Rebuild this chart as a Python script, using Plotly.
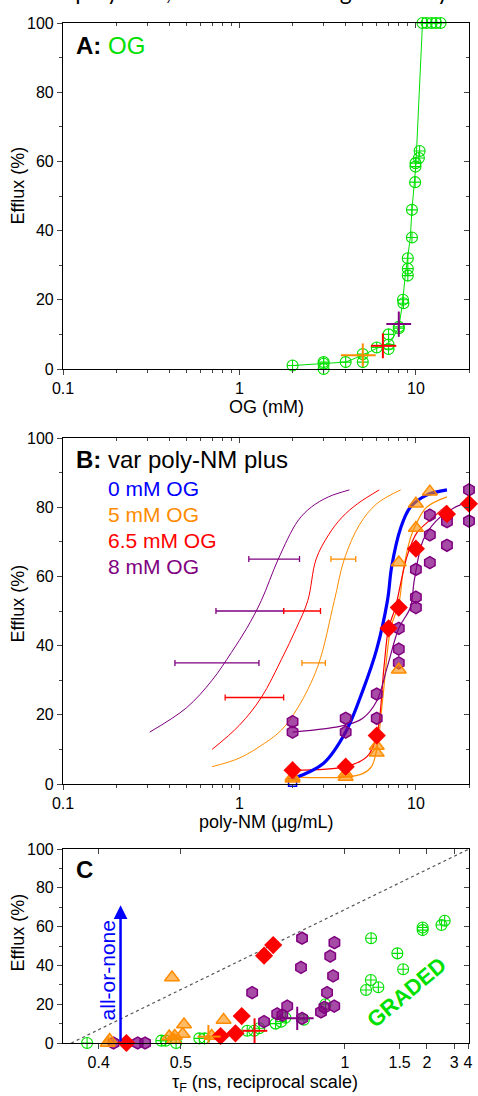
import numpy as np
import plotly.graph_objects as go

# ---------------- Panel A data (OG alone) ----------------
og_conc = [2, 3, 3, 3, 4, 5, 5, 6, 7, 7, 7, 8, 8, 8.45, 8.5, 9, 9, 9, 9.5, 9.5,
           9.9, 9.95, 9.95, 10.4, 10.5, 10.9, 11.5, 12.3, 13, 13.8]
og_efflux = [1, 2, 1.5, 0, 2, 4.3, 2, 6.2, 7.1, 5.8, 10, 12.2, 11.8, 20, 19, 29, 27, 32, 38, 46,
             54, 58.5, 59.5, 61, 63, 100, 100, 100, 100, 100]
og_line_x = [2, 3, 4, 5, 6, 6.6, 7.3, 8, 8.4, 8.7, 9.3, 9.5, 10.0, 10.9, 13.8]
og_line_y = [1, 1.6, 2, 4, 6, 6.7, 8.4, 12, 19, 27, 38, 46, 59, 100, 100]
crossA_x = [5, 6.5, 8]
crossA_y = [4, 6.7, 13]
crossA_xlo = [3.76, 5.56, 6.8]
crossA_xhi = [5.92, 7.74, 9.4]
crossA_ylo = [0.7, 3.1, 9.3]
crossA_yhi = [7.4, 10.3, 16.6]

# ---------------- Panel B data (poly-NM plus OG) ----------------
b0_x = [2]
b0_y = [0.5]
b0_fit_x = [2, 3, 4, 5, 6, 6.9, 7.3, 8.2, 9.3, 11.5, 15]
b0_fit_y = [1.5, 6, 15, 27, 39, 53, 63, 74, 80, 83.5, 85]

b5_x = [2, 2, 4, 4, 6, 6, 8, 8, 10, 10, 12]
b5_y = [2, 1.5, 3, 2, 11, 9, 33, 64, 81, 74, 84.5]
b5_fit_x = [2, 4, 5, 5.6, 6, 6.5, 7.2, 8, 8.5, 9.3, 10, 11.5, 15]
b5_fit_y = [2, 2, 3, 5, 10, 25, 45, 52, 62, 71, 75, 80, 83]

b65_x = [2, 4, 6, 7, 8, 10, 15, 20]
b65_y = [4, 5, 14, 45, 51, 68, 78, 81]
b65_fit_x = [2, 4, 5.3, 6, 6.6, 7, 7.65, 8.9, 10.1, 12.5, 15]
b65_fit_y = [4, 5, 8, 14, 34, 45, 51, 65.7, 72.5, 77, 80.6]

b8_x = [2, 2, 4, 4, 6, 6, 8, 8, 8, 10, 10, 10, 12, 12, 12, 15, 15, 15, 20, 20]
b8_y = [18, 15, 19, 15, 26, 19, 45, 39, 35, 51, 54, 62, 64, 72, 77.7, 77.7, 75.8, 69, 85, 76]
b8_fit_x = [2, 4, 5, 6, 6.9, 8, 9.3, 9.8, 11, 13, 16.3, 20]
b8_fit_y = [15, 17, 19, 24, 34, 45, 51, 59, 70.5, 76, 79.7, 81.6]

# shifted (thin) curves on the left
s8_x = [0.31, 0.5, 0.7, 0.9, 1.1, 1.33, 1.66, 2.14, 2.55, 3.2, 4.2]
s8_y = [15, 22, 30, 38, 45, 53, 65, 76, 80, 83, 85]
s65_x = [0.7, 1.0, 1.33, 1.73, 2.1, 2.44, 2.72, 3.2, 3.8, 4.67, 6.2]
s65_y = [10, 17, 25, 36, 45, 53, 65, 72, 77, 81, 85]
s5_x = [0.7, 1.0, 1.39, 1.73, 2.14, 2.78, 3.45, 3.93, 4.8, 6.0, 8.2]
s5_y = [5, 7.5, 11.8, 15.6, 22, 34, 53, 65, 75, 81, 85]

# horizontal error bars in panel B
ebB_series = ["8", "5", "8", "6.5", "8", "5", "6.5"]
ebB_y = [65, 65, 50, 50, 35, 35, 25]
ebB_lo = [1.13, 3.3, 0.736, 1.78, 0.431, 2.26, 0.83]
ebB_hi = [2.19, 4.56, 1.78, 2.88, 1.29, 3.07, 1.78]

# ---------------- Panel C data (efflux vs tau_F) ----------------
gC_tau = [0.389, 0.472, 0.478, 0.493, 0.53, 0.539, 0.627, 0.644, 0.657, 0.703, 0.72, 0.734, 0.8,
          0.894, 1.148, 1.188, 1.256, 1.19, 1.47, 1.55, 1.9, 1.9, 2.43, 2.55]
gC_eff = [0, 1.2, 1.2, 0, 2.4, 2.4, 6.3, 6.3, 7.6, 10, 11, 13, 12,
          20, 27.3, 32.5, 28.7, 54, 46.2, 38, 58.2, 59.5, 60.8, 63]
oC_tau = [0.409, 0.411, 0.483, 0.49, 0.491, 0.503, 0.505, 0.487, 0.552, 0.575]
oC_eff = [0, 1.5, 3.3, 1.5, 3.6, 4.6, 9.5, 33.8, 3.6, 11.9]
rC_tau = [0.429, 0.569, 0.6, 0.614, 0.67, 0.696]
rC_eff = [0, 3.6, 5, 13.9, 45, 50.5]
pC_tau = [0.415, 0.442, 0.451, 0.639, 0.67, 0.708, 0.724, 0.74, 0.793, 0.873, 0.889, 0.939,
          0.902, 0.933, 0.918, 0.94, 0.793, 0.789]
pC_eff = [0, 0, 0, 26, 11, 15, 14.4, 19, 12.7, 16, 18.4, 19, 26, 34.6, 44.8, 51.7, 54, 39]
crossC_tau = [0.546, 0.645, 0.775]
crossC_eff = [3.3, 6.3, 12.7]
crossC_tlo = [0.527, 0.616, 0.718]
crossC_thi = [0.569, 0.679, 0.84]
crossC_elo = [-2.7, 0, 6.7]
crossC_ehi = [9.3, 12.7, 18.7]
diag_tau = [0.375, 4.1]
diag_eff = [0, 100]
arrow_tau = 0.4225
arrow_top = 71
tauC_ticks = [0.4, 0.5, 1, 1.5, 2, 3, 4]
tauC_ticktext = ["0.4", "0.5", "1", "1.5", "2", "3", "4"]
tauC_range = [0.368, 4.1]

# ---------------- styling ----------------
GREEN = "#00E000"
ORANGE = "#FF8C00"
RED = "#FF0000"
PURPLE = "#800080"
BLUE = "#0000FF"
FONT = "Liberation Sans, Arial, sans-serif"
COL = {"5": ORANGE, "6.5": RED, "8": PURPLE}

W, H = 478, 1096
ML, MR, MT, MB = 63, 5, 23, 53
PW, PH = W - ML - MR, H - MT - MB


def px(p):
    return (p - ML) / PW


def py(p):
    return (H - MB - p) / PH


def recip(t):
    return list(-1.0 / np.asarray(t, dtype=float))


fig = go.Figure()


def sc(**kw):
    kw.setdefault("showlegend", False)
    kw.setdefault("hoverinfo", "skip")
    kw.setdefault("cliponaxis", False)
    fig.add_trace(go.Scatter(**kw))


HEX = dict(symbol="hexagon", size=12, color="rgba(128,0,128,0.7)", line=dict(color=PURPLE, width=1.5))
TRI = dict(symbol="triangle-up", size=13, color="rgba(255,140,0,0.6)", line=dict(color=ORANGE, width=1.5))
DIA = dict(symbol="diamond", size=14, color=RED, line=dict(width=0))
CIR = dict(symbol="circle-cross-open", size=11, color=GREEN, line=dict(width=1.1))

# ----- Panel A -----
sc(x=og_line_x, y=og_line_y, mode="lines", line=dict(color=GREEN, width=1), xaxis="x", yaxis="y")
sc(x=og_conc, y=og_efflux, mode="markers", marker=CIR, xaxis="x", yaxis="y")
for i, c in enumerate([ORANGE, RED, PURPLE]):
    sc(x=[crossA_x[i]], y=[crossA_y[i]], mode="markers",
       marker=dict(size=1, color="rgba(0,0,0,0)"),
       error_x=dict(type="data", symmetric=False, array=[crossA_xhi[i] - crossA_x[i]],
                    arrayminus=[crossA_x[i] - crossA_xlo[i]], color=c, thickness=2, width=0),
       error_y=dict(type="data", symmetric=False, array=[crossA_yhi[i] - crossA_y[i]],
                    arrayminus=[crossA_y[i] - crossA_ylo[i]], color=c, thickness=2, width=0),
       xaxis="x", yaxis="y")

# ----- Panel B -----
for xs, ys, c in [(s8_x, s8_y, PURPLE), (s65_x, s65_y, RED), (s5_x, s5_y, ORANGE)]:
    sc(x=xs, y=ys, mode="lines", line=dict(color=c, width=1, shape="spline"), xaxis="x2", yaxis="y2")
for i in range(len(ebB_y)):
    c = COL[ebB_series[i]]
    cx = float(np.sqrt(ebB_lo[i] * ebB_hi[i]))
    sc(x=[cx], y=[ebB_y[i]], mode="markers", marker=dict(size=1, color="rgba(0,0,0,0)"),
       error_x=dict(type="data", symmetric=False, array=[ebB_hi[i] - cx],
                    arrayminus=[cx - ebB_lo[i]], color=c, thickness=1.3, width=3),
       xaxis="x2", yaxis="y2")
sc(x=b5_fit_x, y=b5_fit_y, mode="lines", line=dict(color=ORANGE, width=1.2, shape="spline"), xaxis="x2", yaxis="y2")
sc(x=b65_fit_x, y=b65_fit_y, mode="lines", line=dict(color=RED, width=1.2, shape="spline"), xaxis="x2", yaxis="y2")
sc(x=b8_fit_x, y=b8_fit_y, mode="lines", line=dict(color=PURPLE, width=1.2, shape="spline"), xaxis="x2", yaxis="y2")
sc(x=b0_fit_x, y=b0_fit_y, mode="lines", line=dict(color=BLUE, width=3.2, shape="spline"), xaxis="x2", yaxis="y2")
sc(x=b0_x, y=b0_y, mode="markers", marker=dict(symbol="square-open", size=8, color=BLUE, line=dict(width=1.5)),
   xaxis="x2", yaxis="y2")
sc(x=b8_x, y=b8_y, mode="markers", marker=HEX, xaxis="x2", yaxis="y2")
sc(x=b5_x, y=b5_y, mode="markers", marker=TRI, xaxis="x2", yaxis="y2")
sc(x=b65_x, y=b65_y, mode="markers", marker=DIA, xaxis="x2", yaxis="y2")

# ----- Panel C -----
sc(x=recip(diag_tau), y=diag_eff, mode="lines", line=dict(color="#555555", width=1.2, dash="dot"),
   xaxis="x3", yaxis="y3", cliponaxis=True)
sc(x=recip(gC_tau), y=gC_eff, mode="markers", marker=CIR, xaxis="x3", yaxis="y3")
sc(x=recip(pC_tau), y=pC_eff, mode="markers", marker=HEX, xaxis="x3", yaxis="y3")
sc(x=recip(oC_tau), y=oC_eff, mode="markers", marker=TRI, xaxis="x3", yaxis="y3")
sc(x=recip(rC_tau), y=rC_eff, mode="markers", marker=DIA, xaxis="x3", yaxis="y3")
for i, c in enumerate([ORANGE, RED, PURPLE]):
    ux = -1.0 / crossC_tau[i]
    sc(x=[ux], y=[crossC_eff[i]], mode="markers", marker=dict(size=1, color="rgba(0,0,0,0)"),
       error_x=dict(type="data", symmetric=False, array=[-1.0 / crossC_thi[i] - ux],
                    arrayminus=[ux + 1.0 / crossC_tlo[i]], color=c, thickness=2, width=0),
       error_y=dict(type="data", symmetric=False, array=[crossC_ehi[i] - crossC_eff[i]],
                    arrayminus=[crossC_eff[i] - crossC_elo[i]], color=c, thickness=2, width=0),
       xaxis="x3", yaxis="y3")

# dummy traces so the mirror axes (inside ticks on top/right) are drawn
for xa, ya in [("x4", "y4"), ("x5", "y5"), ("x6", "y6")]:
    fig.add_trace(go.Scatter(x=[None], y=[None], xaxis=xa, yaxis=ya, showlegend=False, hoverinfo="skip"))

# ---------------- axes ----------------
logA_range = [-1, np.log10(20)]
major_log = [0.1, 1, 10]
minor_log = [v * m for v in [0.1, 1, 10] for m in range(2, 10) if v * m <= 20]
tickfont = dict(family=FONT, size=16, color="black")

yax_common = dict(range=[0, 100], tickvals=[0, 20, 40, 60, 80, 100], ticks="outside", ticklen=5,
                  tickwidth=1, showline=True, linecolor="black", linewidth=1.2, mirror=True,
                  showgrid=False, zeroline=False, tickfont=tickfont,
                  minor=dict(tickvals=[10, 30, 50, 70, 90], ticks="outside", ticklen=3))
logx_common = dict(type="log", range=logA_range, tickvals=major_log, ticktext=["0.1", "1", "10"],
                   ticks="outside", ticklen=5, showline=True, linecolor="black", linewidth=1.2,
                   mirror=True, showgrid=False, zeroline=False, tickfont=tickfont,
                   minor=dict(tickvals=minor_log, ticks="outside", ticklen=3))

dA = [py(369), 1.0]
dB = [py(784), py(438)]
dC = [0.0, py(849)]
uC_range = [-1.0 / tauC_range[0], -1.0 / tauC_range[1]]

lay = dict(
    xaxis=dict(**logx_common, anchor="y"),
    yaxis=dict(**yax_common, domain=dA, anchor="x"),
    xaxis2=dict(**logx_common, anchor="y2"),
    yaxis2=dict(**yax_common, domain=dB, anchor="x2"),
    xaxis3=dict(range=uC_range, tickvals=recip(tauC_ticks), ticktext=tauC_ticktext, ticks="outside",
                ticklen=5, showline=True, linecolor="black", linewidth=1.2, mirror=True,
                showgrid=False, zeroline=False, tickfont=tickfont, anchor="y3"),
    yaxis3=dict(**yax_common, domain=dC, anchor="x3"),
)
# inside ticks on the top and right sides
for n, base_x, base_y in [(4, "x", "y"), (5, "x2", "y2"), (6, "x3", "y3")]:
    if n < 6:
        lay[f"xaxis{n}"] = dict(type="log", range=logA_range, overlaying=base_x, anchor=base_y, side="top",
                               tickvals=major_log, ticks="inside", ticklen=5, showticklabels=False,
                               showline=False, showgrid=False, zeroline=False,
                               minor=dict(tickvals=minor_log, ticks="inside", ticklen=3))
    else:
        lay[f"xaxis{n}"] = dict(range=uC_range, overlaying=base_x, anchor=base_y, side="top",
                               tickvals=recip(tauC_ticks), ticks="inside", ticklen=5,
                               showticklabels=False, showline=False, showgrid=False, zeroline=False)
    lay[f"yaxis{n}"] = dict(range=[0, 100], overlaying=base_y, anchor=base_x, side="right",
                           tickvals=[0, 20, 40, 60, 80, 100], ticks="inside", ticklen=5,
                           showticklabels=False, showline=False, showgrid=False, zeroline=False,
                           minor=dict(tickvals=[10, 30, 50, 70, 90], ticks="inside", ticklen=3))

fig.update_layout(**lay)

# ---------------- annotations ----------------
ann = []


def txt(text, x, y, size, color="black", xanchor="left", yanchor="middle", angle=0, **kw):
    ann.append(dict(text=text, x=x, y=y, xref=kw.pop("xref", "paper"), yref=kw.pop("yref", "paper"),
                    showarrow=False, xanchor=xanchor, yanchor=yanchor, textangle=angle,
                    font=dict(family=kw.pop("family", FONT), size=size, color=color), **kw))


txt("sed for poly-NM, see crosses in Fig. 4A. Very m", px(-3), py(-9), 23, family="Lato, sans-serif")
for yc in [185, 603, 932]:
    txt("Efflux (%)", px(18), py(yc), 18, xanchor="center", angle=-90)
txt("OG (mM)", px(268), py(407), 18, xanchor="center")
txt("poly-NM (μg/mL)", px(268), py(822), 18, xanchor="center")
txt("τ<sub>F</sub> (ns, reciprocal scale)", px(267), py(1083), 18, xanchor="center")

txt("<b>A:</b> <span style='color:%s'>OG</span>" % GREEN, px(74), py(45), 24)
txt("<b>B:</b> var poly-NM plus", px(74), py(459), 24)
txt("0 mM OG", px(106), py(488), 21, color=BLUE)
txt("5 mM OG", px(106), py(514), 21, color=ORANGE)
txt("6.5 mM OG", px(106), py(540), 21, color=RED)
txt("8 mM OG", px(106), py(566), 21, color=PURPLE)
txt("<b>C</b>", px(74), py(870), 24)

ux_arrow = -1.0 / arrow_tau
ann.append(dict(x=ux_arrow, y=arrow_top, ax=ux_arrow, ay=0, xref="x3", yref="y3", axref="x3", ayref="y3",
                showarrow=True, arrowhead=2, arrowsize=1.1, arrowwidth=2.5, arrowcolor=BLUE, text=""))
txt("all-or-none", ux_arrow - 0.08, 37.6, 21, color=BLUE, xanchor="center", angle=-90, xref="x3", yref="y3")
txt("<b>GRADED</b>", -1.0 / 1.6, 26, 22, color=GREEN, xanchor="center", angle=-40, xref="x3", yref="y3")

fig.update_layout(annotations=ann, width=W, height=H,
                  margin=dict(l=ML, r=MR, t=MT, b=MB, pad=0),
                  paper_bgcolor="white", plot_bgcolor="white", showlegend=False,
                  font=dict(family=FONT, color="black"))

fig.write_html("out.html", config={"displayModeBar": False},
               post_script="document.body.style.margin='0px';document.body.style.padding='0px';")
